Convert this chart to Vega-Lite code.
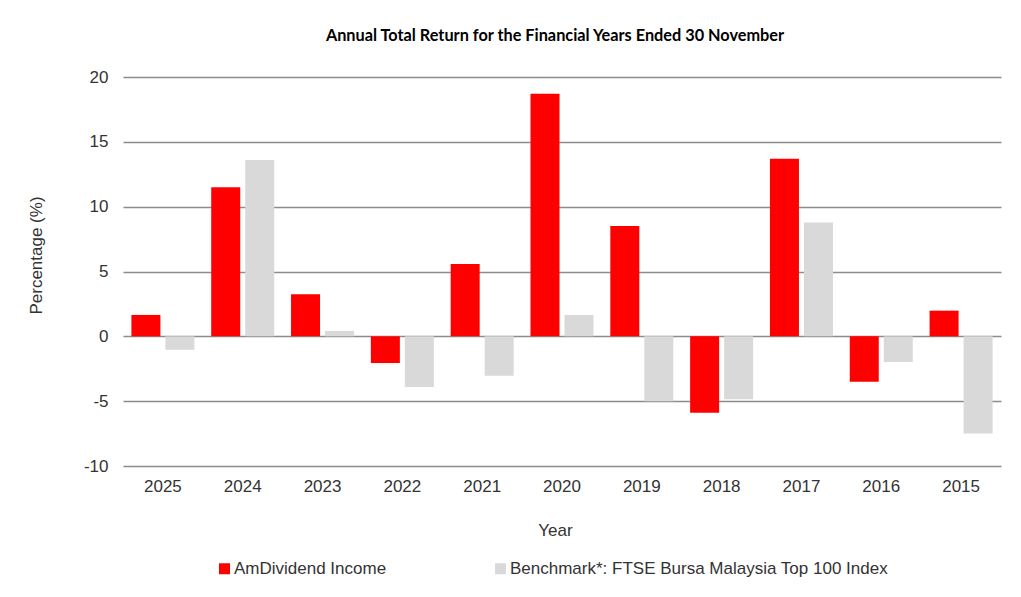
{
  "$schema": "https://vega.github.io/schema/vega-lite/v6.json",
  "autosize": {"type": "none"},
  "padding": {"left": 123, "top": 77, "right": 20, "bottom": 131},
  "width": 878,
  "height": 389,
  "background": "white",
  "title": {
    "text": "Annual Total Return for the Financial Years Ended 30 November",
    "font": "Lato",
    "fontSize": 16.3,
    "fontWeight": "bold",
    "color": "#000000",
    "anchor": "middle",
    "dx": -7,
    "offset": 24
  },
  "data": {
    "values": [
      {"year": "2025", "series": "AmDividend Income", "value": 1.65},
      {"year": "2025", "series": "Benchmark*: FTSE Bursa Malaysia Top 100 Index", "value": -1.04},
      {"year": "2024", "series": "AmDividend Income", "value": 11.5},
      {"year": "2024", "series": "Benchmark*: FTSE Bursa Malaysia Top 100 Index", "value": 13.6},
      {"year": "2023", "series": "AmDividend Income", "value": 3.25},
      {"year": "2023", "series": "Benchmark*: FTSE Bursa Malaysia Top 100 Index", "value": 0.42},
      {"year": "2022", "series": "AmDividend Income", "value": -2.06},
      {"year": "2022", "series": "Benchmark*: FTSE Bursa Malaysia Top 100 Index", "value": -3.9},
      {"year": "2021", "series": "AmDividend Income", "value": 5.58},
      {"year": "2021", "series": "Benchmark*: FTSE Bursa Malaysia Top 100 Index", "value": -3.04},
      {"year": "2020", "series": "AmDividend Income", "value": 18.7},
      {"year": "2020", "series": "Benchmark*: FTSE Bursa Malaysia Top 100 Index", "value": 1.65},
      {"year": "2019", "series": "AmDividend Income", "value": 8.5},
      {"year": "2019", "series": "Benchmark*: FTSE Bursa Malaysia Top 100 Index", "value": -5.0},
      {"year": "2018", "series": "AmDividend Income", "value": -5.9},
      {"year": "2018", "series": "Benchmark*: FTSE Bursa Malaysia Top 100 Index", "value": -4.86},
      {"year": "2017", "series": "AmDividend Income", "value": 13.7},
      {"year": "2017", "series": "Benchmark*: FTSE Bursa Malaysia Top 100 Index", "value": 8.78},
      {"year": "2016", "series": "AmDividend Income", "value": -3.5},
      {"year": "2016", "series": "Benchmark*: FTSE Bursa Malaysia Top 100 Index", "value": -1.98},
      {"year": "2015", "series": "AmDividend Income", "value": 1.98},
      {"year": "2015", "series": "Benchmark*: FTSE Bursa Malaysia Top 100 Index", "value": -7.5}
    ]
  },
  "mark": {"type": "bar"},
  "encoding": {
    "x": {
      "field": "year",
      "type": "nominal",
      "sort": null,
      "scale": {"paddingInner": 0, "paddingOuter": 0},
      "axis": {
        "title": "Year",
        "labelAngle": 0,
        "labelPadding": 12,
        "titleX": 432,
        "titleY": 64,
        "titleBaseline": "middle",
        "titleAlign": "center"
      }
    },
    "xOffset": {
      "field": "series",
      "type": "nominal",
      "sort": null,
      "scale": {"paddingInner": 0.147, "paddingOuter": 0.247}
    },
    "y": {
      "field": "value",
      "type": "quantitative",
      "scale": {"domain": [-10, 20], "nice": false, "zero": false},
      "axis": {
        "title": "Percentage (%)",
        "values": [-10, -5, 0, 5, 10, 15, 20],
        "labelExpr": "datum.value < 0 ? '-' + abs(datum.value) : '' + datum.value",
        "grid": true,
        "labelPadding": 15,
        "titleX": -87,
        "titleY": 178,
        "titleAngle": -90,
        "titleAlign": "center",
        "titleBaseline": "middle"
      }
    },
    "color": {
      "field": "series",
      "type": "nominal",
      "scale": {
        "domain": ["AmDividend Income", "Benchmark*: FTSE Bursa Malaysia Top 100 Index"],
        "range": ["#FF0000", "#D9D9D9"]
      },
      "legend": {
        "title": null,
        "orient": "none",
        "direction": "horizontal",
        "legendX": 93,
        "legendY": 483,
        "symbolType": "square",
        "symbolSize": 121,
        "symbolStrokeWidth": 0,
        "labelFontSize": 17,
        "labelColor": "#333333",
        "labelOffset": 1,
        "labelLimit": 0,
        "columnPadding": 105
      }
    }
  },
  "config": {
    "font": "Liberation Sans",
    "view": {"stroke": null},
    "axis": {
      "domain": false,
      "ticks": false,
      "labelFont": "Liberation Sans",
      "labelFontSize": 17,
      "labelColor": "#333333",
      "titleFont": "Liberation Sans",
      "titleFontSize": 17,
      "titleFontWeight": "normal",
      "titleColor": "#333333",
      "gridColor": "#8c8c8c",
      "gridWidth": 1.5
    },
    "axisX": {"grid": false},
    "legend": {"labelFont": "Liberation Sans"}
  }
}
